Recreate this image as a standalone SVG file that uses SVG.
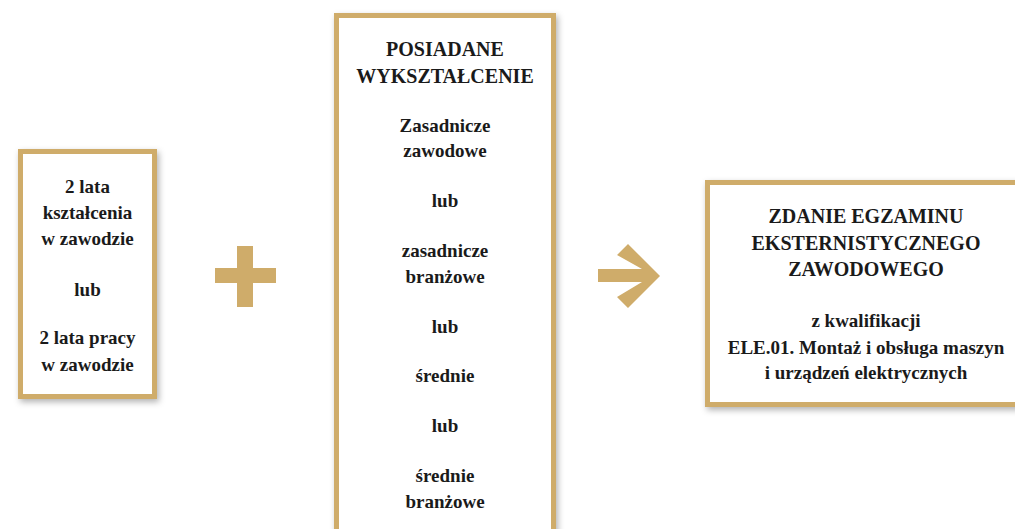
<svg xmlns="http://www.w3.org/2000/svg" width="1015" height="529" viewBox="0 0 1015 529">
<defs>
<filter id="sh" x="-10%" y="-10%" width="130%" height="130%">
<feDropShadow dx="2" dy="3" stdDeviation="3" flood-color="#000" flood-opacity="0.3"/>
</filter>
</defs>
<style>
.box{fill:#fff;stroke:#cfac6a;stroke-width:5}
.sym{fill:#cfac6a}
text{font-family:"Liberation Serif","Times New Roman",serif;font-weight:bold;fill:#1a1a1a;text-anchor:middle}
.t{font-size:19px}
.c{font-size:20px}
</style>
<rect width="1015" height="529" fill="#fff"/>
<g id="node-left">
<rect class="box" x="20.5" y="151.5" width="134" height="245" filter="url(#sh)"/>
<text class="t" x="87.5" y="193">2 lata</text>
<text class="t" x="87.5" y="219">kształcenia</text>
<text class="t" x="87.5" y="245">w zawodzie</text>
<text class="t" x="87.5" y="296">lub</text>
<text class="t" x="87.5" y="344">2 lata pracy</text>
<text class="t" x="87.5" y="371">w zawodzie</text>
</g>
<g id="node-middle">
<rect class="box" x="336.5" y="15.5" width="217" height="540" filter="url(#sh)"/>
<text class="c" x="445" y="56">POSIADANE</text>
<text class="c" x="445" y="83">WYKSZTAŁCENIE</text>
<text class="t" x="445" y="132">Zasadnicze</text>
<text class="t" x="445" y="157">zawodowe</text>
<text class="t" x="445" y="207">lub</text>
<text class="t" x="445" y="257">zasadnicze</text>
<text class="t" x="445" y="283">branżowe</text>
<text class="t" x="445" y="333">lub</text>
<text class="t" x="445" y="382">średnie</text>
<text class="t" x="445" y="432">lub</text>
<text class="t" x="445" y="482">średnie</text>
<text class="t" x="445" y="508">branżowe</text>
</g>
<g id="node-right">
<rect class="box" x="707.5" y="182.5" width="340" height="222" filter="url(#sh)"/>
<text class="c" x="866" y="223">ZDANIE EGZAMINU</text>
<text class="c" x="866" y="250">EKSTERNISTYCZNEGO</text>
<text class="c" x="866" y="276">ZAWODOWEGO</text>
<text class="t" x="866" y="327">z kwalifikacji</text>
<text class="t" x="866" y="354">ELE.01. Montaż i obsługa maszyn</text>
<text class="t" x="866" y="379">i urządzeń elektrycznych</text>
</g>
<g id="connectors">
<path class="sym" d="M237,246 H253 V268 H276 V283 H253 V307 H237 V283 H215 V268 H237 Z"/>
<path class="sym" d="M598,269 H642 L617,255 L628,244 L660,276 L628,308 L617,297 L642,282 H598 Z"/>
</g>
</svg>
